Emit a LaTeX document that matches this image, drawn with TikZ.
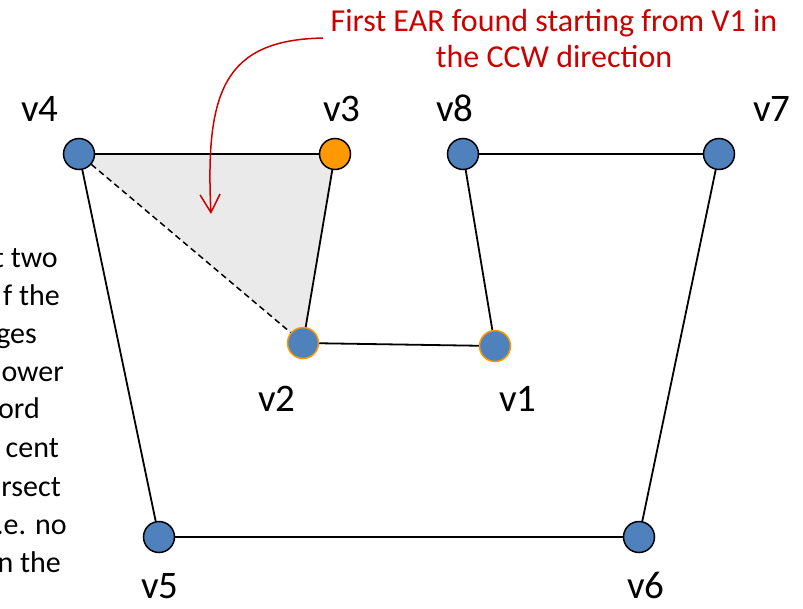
\documentclass[tikz,border=0pt]{standalone}
\usepackage{fontspec}
\setmainfont{Carlito}
\usetikzlibrary{arrows.meta,backgrounds}
\definecolor{vblue}{RGB}{79,129,189}
\definecolor{vorange}{RGB}{255,153,0}
\definecolor{ered}{RGB}{204,0,0}
\definecolor{earfill}{RGB}{234,234,234}
\begin{document}
\begin{tikzpicture}[x=1pt,y=-1pt,
  vtx/.style={circle,draw=black,line width=1.5pt,fill=vblue,minimum size=31pt,inner sep=0pt},
  ovtx/.style={vtx,fill=vorange},
  bvtx/.style={vtx,draw=vorange},
  edge/.style={line width=1.8pt,black},
  diag/.style={line width=1.5pt,black,dash pattern=on 6pt off 4pt},
  lbl/.style={anchor=base,inner sep=0pt,font=\fontsize{39}{46}\selectfont},
  ltxt/.style={anchor=base east,inner sep=0pt,font=\fontsize{30}{36}\selectfont},
  rtxt/.style={anchor=base,inner sep=0pt,text=ered,font=\fontsize{32}{38}\selectfont},
  callout/.style={ered,line width=1.5pt,-{Straight Barb[length=18pt,width=20pt,line width=1.5pt]}}]
\useasboundingbox (0,0) rectangle (803,608);
\clip (0,0) rectangle (803,608);
% vertices
\node[vtx]  (v4) at (79,154) {};
\node[ovtx] (v3) at (335,154) {};
\node[vtx]  (v8) at (463,154) {};
\node[vtx]  (v7) at (719,154) {};
\node[bvtx] (v2) at (303,343) {};
\node[bvtx] (v1) at (495,346) {};
\node[vtx]  (v5) at (159,537) {};
\node[vtx]  (v6) at (639,537) {};
% ear fill
\begin{pgfonlayer}{background}
\fill[earfill] (v4.center) -- (v3.center) -- (v2.center) -- cycle;
\end{pgfonlayer}
% edges
\draw[edge] (v1) -- (v2);
\draw[edge] (v2) -- (v3);
\draw[edge] (v3) -- (v4);
\draw[edge] (v4) -- (v5);
\draw[edge] (v5) -- (v6);
\draw[edge] (v6) -- (v7);
\draw[edge] (v7) -- (v8);
\draw[edge] (v8) -- (v1);
\draw[diag] (v4) -- (v2);
% labels
\node[lbl] (l4) at (40,121) {v4};
\node[lbl] (l3) at (342,121) {v3};
\node[lbl] (l8) at (455,121) {v8};
\node[lbl] (l7) at (772,121) {v7};
\node[lbl] (l2) at (277,411) {v2};
\node[lbl] (l1) at (518,411) {v1};
\node[lbl] (l5) at (160,598) {v5};
\node[lbl] (l6) at (646,598) {v6};
% callout
\node[rtxt] (r1) at (554,31) {First EAR found starting from V1 in};
\node[rtxt] (r2) at (554,67) {the CCW direction};
\coordinate (cs) at (323,38);
\coordinate (ce) at (211,214);
\draw[callout] (cs) .. controls (225,40) and (205,90) .. (ce);
% cut-off left text
\node[ltxt] (t1) at (58,267) {t two};
\node[ltxt] (t2) at (60,305) {f the};
\node[ltxt] (t3) at (37,343) {ges};
\node[ltxt] (t4) at (64,381) {ower};
\node[ltxt] (t5) at (40,418) {ord};
\node[ltxt] (t6) at (59,457) {cent};
\node[ltxt] (t7) at (61,496) {rsect};
\node[ltxt] (t8) at (67,534) {i.e. no};
\node[ltxt] (t9) at (61,572) {n the};
\end{tikzpicture}
\end{document}
